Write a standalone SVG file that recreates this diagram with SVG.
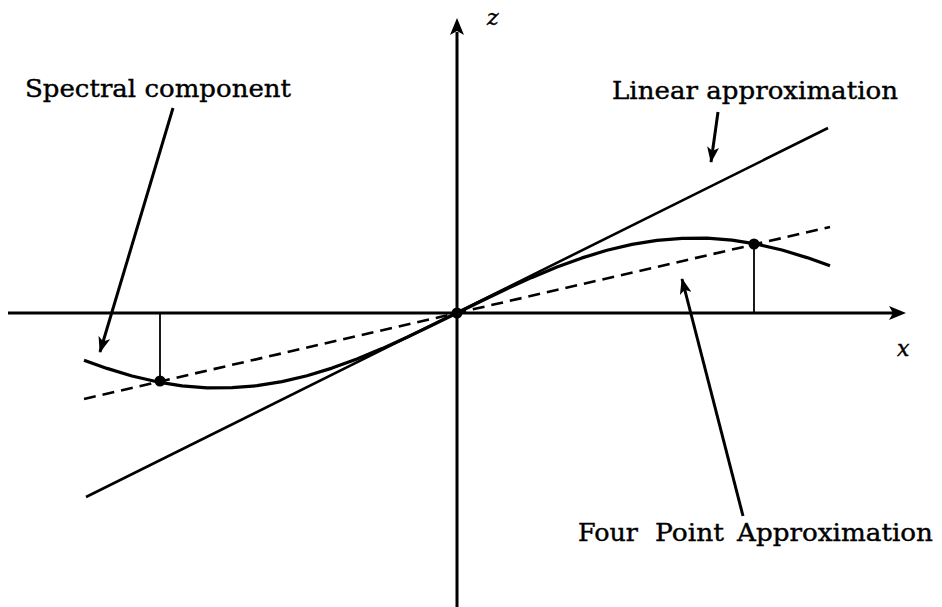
<svg xmlns="http://www.w3.org/2000/svg" width="942" height="607" viewBox="0 0 942 607">
<style>
.axis{stroke:#000;stroke-width:3;fill:none}
.lin{stroke:#000;stroke-width:2.6;fill:none}
.dash{stroke:#000;stroke-width:2.6;fill:none;stroke-dasharray:12 7}
.curve{stroke:#000;stroke-width:3.2;fill:none;stroke-linejoin:round}
.thin{stroke:#000;stroke-width:1.8}
.ptr{stroke:#000;stroke-width:3;fill:none}
.lbl{font-family:"DejaVu Serif","Liberation Serif",serif;font-size:25px;fill:#000;stroke:#000;stroke-width:0.4}
.var{font-family:"DejaVu Serif","Liberation Serif",serif;font-size:22px;font-style:italic;fill:#000;stroke:#000;stroke-width:0.4}
</style>
<defs>
<marker id="ah" markerWidth="16" markerHeight="12" refX="15" refY="6" orient="auto" markerUnits="userSpaceOnUse">
<path d="M0,0 L16,6 L0,12 L4,6 Z" fill="#000"/>
</marker>
</defs>
<rect width="942" height="607" fill="#fff"/>
<g id="axes">
<line class="axis" x1="8" y1="313" x2="893" y2="313"/>
<path d="M906,313 L889,306 L893,313 L889,320 Z" fill="#000"/>
<line class="axis" x1="457" y1="607" x2="457" y2="32"/>
<path d="M457,18 L450,35 L457,31 L464,35 Z" fill="#000"/>
<text class="var" x="487" y="25">z</text>
<text class="var" x="897" y="356">x</text>
</g>
<g id="linear-line">
<line class="lin" x1="86" y1="497" x2="828" y2="128"/>
</g>
<g id="four-point-line">
<line class="dash" x1="84" y1="399" x2="830" y2="227"/>
</g>
<g id="spectral-curve">
<polyline class="curve" points="84,360.2 107,368.4 132,376 157,381.8 182,385.8 207,387.8 232,387.7 257,385.7 282,381.6 307,375.7 332,368.1 357,359 382,348.6 407,337.3 432,325.3 457,313 482,300.7 507,288.7 532,277.4 557,267 582,257.9 607,250.3 632,244.4 657,240.4 682,238.3 707,238.2 732,240.2 757,244.2 782,250 807,257.6 830,265.8"/>
</g>
<g id="samples">
<line class="thin" x1="160" y1="313" x2="160" y2="381"/>
<line class="thin" x1="754" y1="313" x2="754" y2="244"/>
<circle cx="160" cy="381" r="5.5" fill="#000"/>
<circle cx="754" cy="244" r="5.5" fill="#000"/>
<circle cx="457" cy="313" r="5.5" fill="#000"/>
</g>
<g id="connectors">
<line class="ptr" x1="173" y1="108" x2="100" y2="352" marker-end="url(#ah)"/>
<line class="ptr" x1="718" y1="112" x2="711" y2="162" marker-end="url(#ah)"/>
<line class="ptr" x1="743" y1="516" x2="682" y2="279" marker-end="url(#ah)"/>
</g>
<g id="label-spectral">
<text class="lbl" x="25" y="97" textLength="266" lengthAdjust="spacingAndGlyphs">Spectral component</text>
</g>
<g id="label-linear">
<text class="lbl" x="612" y="99" textLength="286" lengthAdjust="spacingAndGlyphs">Linear approximation</text>
</g>
<g id="label-four">
<text class="lbl" y="541"><tspan x="578" textLength="60" lengthAdjust="spacingAndGlyphs">Four</tspan><tspan x="655" textLength="69" lengthAdjust="spacingAndGlyphs">Point</tspan><tspan x="737" textLength="196" lengthAdjust="spacingAndGlyphs">Approximation</tspan></text>
</g>
</svg>
